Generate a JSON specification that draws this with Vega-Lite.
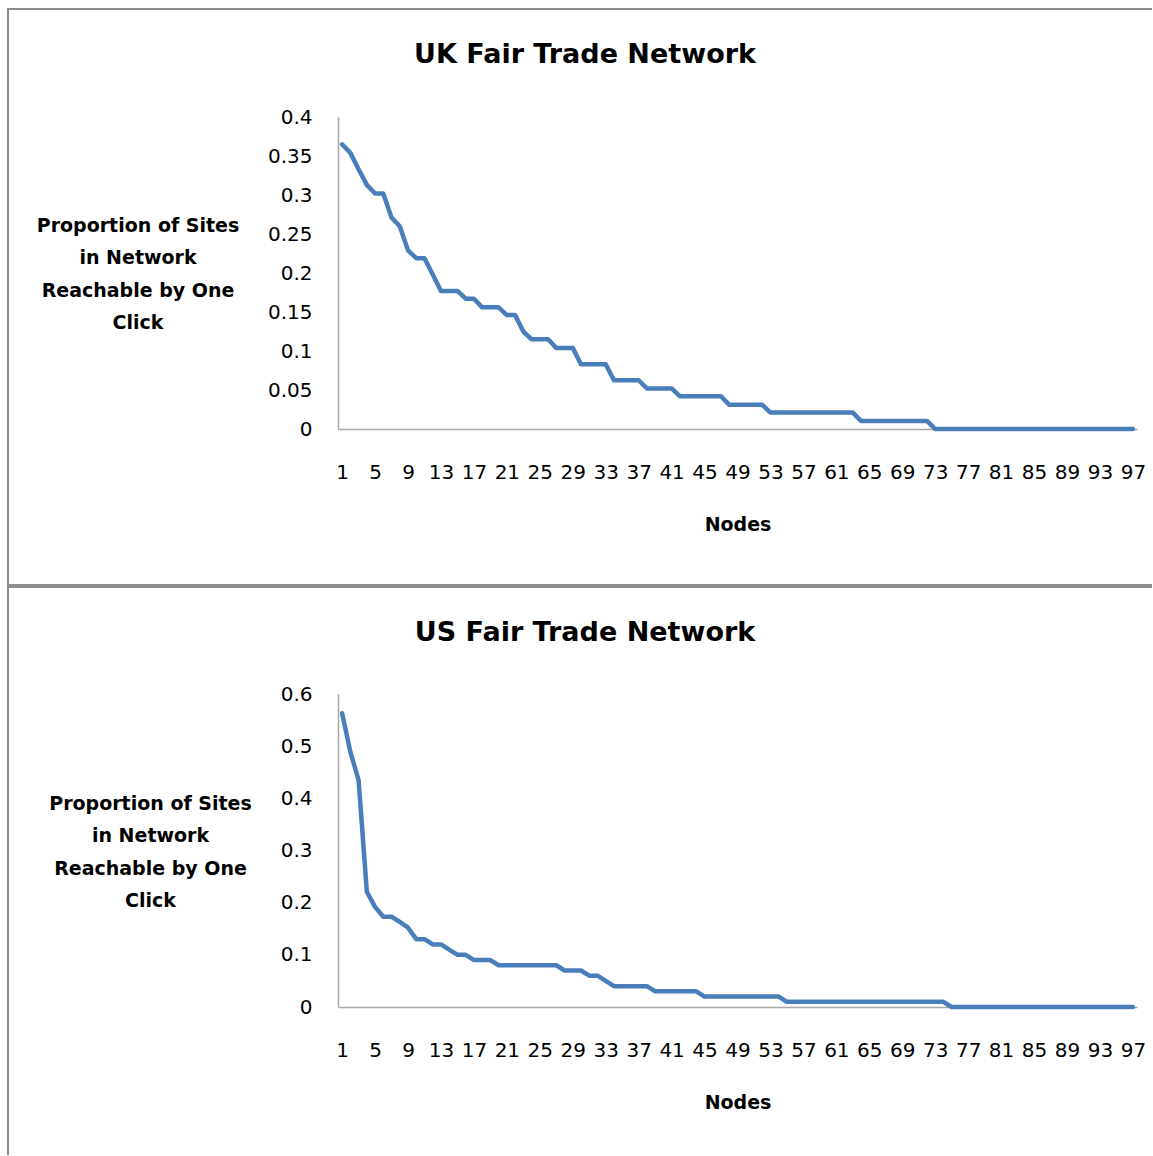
{
  "$schema": "https://vega.github.io/schema/vega-lite/v6.json",
  "padding": {"left": 7, "top": 8, "right": 0, "bottom": 0},
  "background": "white",
  "spacing": 0,
  "config": {
    "font": "DejaVu Sans",
    "view": {"stroke": null},
    "axis": {
      "domainColor": "#A6A6A6",
      "domainWidth": 1.5,
      "ticks": false,
      "tickSize": 0,
      "grid": false,
      "labelFont": "DejaVu Sans",
      "labelFontSize": 20,
      "labelColor": "#000000",
      "labelOverlap": false,
      "labelFlush": false,
      "titleFont": "DejaVu Sans",
      "titleFontSize": 19,
      "titleFontWeight": "bold",
      "titleColor": "#000000"
    }
  },
  "datasets": {
    "uk": [
      {"node": 1, "p": 0.365}, {"node": 2, "p": 0.354}, {"node": 3, "p": 0.333}, {"node": 4, "p": 0.313},
      {"node": 5, "p": 0.302}, {"node": 6, "p": 0.302}, {"node": 7, "p": 0.271}, {"node": 8, "p": 0.26},
      {"node": 9, "p": 0.229}, {"node": 10, "p": 0.219}, {"node": 11, "p": 0.219}, {"node": 12, "p": 0.198},
      {"node": 13, "p": 0.177}, {"node": 14, "p": 0.177}, {"node": 15, "p": 0.177}, {"node": 16, "p": 0.167},
      {"node": 17, "p": 0.167}, {"node": 18, "p": 0.156}, {"node": 19, "p": 0.156}, {"node": 20, "p": 0.156},
      {"node": 21, "p": 0.146}, {"node": 22, "p": 0.146}, {"node": 23, "p": 0.125}, {"node": 24, "p": 0.115},
      {"node": 25, "p": 0.115}, {"node": 26, "p": 0.115}, {"node": 27, "p": 0.104}, {"node": 28, "p": 0.104},
      {"node": 29, "p": 0.104}, {"node": 30, "p": 0.083}, {"node": 31, "p": 0.083}, {"node": 32, "p": 0.083},
      {"node": 33, "p": 0.083}, {"node": 34, "p": 0.0625}, {"node": 35, "p": 0.0625}, {"node": 36, "p": 0.0625},
      {"node": 37, "p": 0.0625}, {"node": 38, "p": 0.052}, {"node": 39, "p": 0.052}, {"node": 40, "p": 0.052},
      {"node": 41, "p": 0.052}, {"node": 42, "p": 0.042}, {"node": 43, "p": 0.042}, {"node": 44, "p": 0.042},
      {"node": 45, "p": 0.042}, {"node": 46, "p": 0.042}, {"node": 47, "p": 0.042}, {"node": 48, "p": 0.031},
      {"node": 49, "p": 0.031}, {"node": 50, "p": 0.031}, {"node": 51, "p": 0.031}, {"node": 52, "p": 0.031},
      {"node": 53, "p": 0.021}, {"node": 54, "p": 0.021}, {"node": 55, "p": 0.021}, {"node": 56, "p": 0.021},
      {"node": 57, "p": 0.021}, {"node": 58, "p": 0.021}, {"node": 59, "p": 0.021}, {"node": 60, "p": 0.021},
      {"node": 61, "p": 0.021}, {"node": 62, "p": 0.021}, {"node": 63, "p": 0.021}, {"node": 64, "p": 0.0104},
      {"node": 65, "p": 0.0104}, {"node": 66, "p": 0.0104}, {"node": 67, "p": 0.0104}, {"node": 68, "p": 0.0104},
      {"node": 69, "p": 0.0104}, {"node": 70, "p": 0.0104}, {"node": 71, "p": 0.0104}, {"node": 72, "p": 0.0104},
      {"node": 73, "p": 0}, {"node": 74, "p": 0}, {"node": 75, "p": 0}, {"node": 76, "p": 0},
      {"node": 77, "p": 0}, {"node": 78, "p": 0}, {"node": 79, "p": 0}, {"node": 80, "p": 0},
      {"node": 81, "p": 0}, {"node": 82, "p": 0}, {"node": 83, "p": 0}, {"node": 84, "p": 0},
      {"node": 85, "p": 0}, {"node": 86, "p": 0}, {"node": 87, "p": 0}, {"node": 88, "p": 0},
      {"node": 89, "p": 0}, {"node": 90, "p": 0}, {"node": 91, "p": 0}, {"node": 92, "p": 0},
      {"node": 93, "p": 0}, {"node": 94, "p": 0}, {"node": 95, "p": 0}, {"node": 96, "p": 0},
      {"node": 97, "p": 0}
    ],
    "us": [
      {"node": 1, "p": 0.563}, {"node": 2, "p": 0.489}, {"node": 3, "p": 0.435}, {"node": 4, "p": 0.221},
      {"node": 5, "p": 0.192}, {"node": 6, "p": 0.173}, {"node": 7, "p": 0.173}, {"node": 8, "p": 0.163},
      {"node": 9, "p": 0.152}, {"node": 10, "p": 0.13}, {"node": 11, "p": 0.13}, {"node": 12, "p": 0.12},
      {"node": 13, "p": 0.12}, {"node": 14, "p": 0.11}, {"node": 15, "p": 0.1}, {"node": 16, "p": 0.1},
      {"node": 17, "p": 0.09}, {"node": 18, "p": 0.09}, {"node": 19, "p": 0.09}, {"node": 20, "p": 0.08},
      {"node": 21, "p": 0.08}, {"node": 22, "p": 0.08}, {"node": 23, "p": 0.08}, {"node": 24, "p": 0.08},
      {"node": 25, "p": 0.08}, {"node": 26, "p": 0.08}, {"node": 27, "p": 0.08}, {"node": 28, "p": 0.07},
      {"node": 29, "p": 0.07}, {"node": 30, "p": 0.07}, {"node": 31, "p": 0.06}, {"node": 32, "p": 0.06},
      {"node": 33, "p": 0.05}, {"node": 34, "p": 0.04}, {"node": 35, "p": 0.04}, {"node": 36, "p": 0.04},
      {"node": 37, "p": 0.04}, {"node": 38, "p": 0.04}, {"node": 39, "p": 0.03}, {"node": 40, "p": 0.03},
      {"node": 41, "p": 0.03}, {"node": 42, "p": 0.03}, {"node": 43, "p": 0.03}, {"node": 44, "p": 0.03},
      {"node": 45, "p": 0.02}, {"node": 46, "p": 0.02}, {"node": 47, "p": 0.02}, {"node": 48, "p": 0.02},
      {"node": 49, "p": 0.02}, {"node": 50, "p": 0.02}, {"node": 51, "p": 0.02}, {"node": 52, "p": 0.02},
      {"node": 53, "p": 0.02}, {"node": 54, "p": 0.02}, {"node": 55, "p": 0.01}, {"node": 56, "p": 0.01},
      {"node": 57, "p": 0.01}, {"node": 58, "p": 0.01}, {"node": 59, "p": 0.01}, {"node": 60, "p": 0.01},
      {"node": 61, "p": 0.01}, {"node": 62, "p": 0.01}, {"node": 63, "p": 0.01}, {"node": 64, "p": 0.01},
      {"node": 65, "p": 0.01}, {"node": 66, "p": 0.01}, {"node": 67, "p": 0.01}, {"node": 68, "p": 0.01},
      {"node": 69, "p": 0.01}, {"node": 70, "p": 0.01}, {"node": 71, "p": 0.01}, {"node": 72, "p": 0.01},
      {"node": 73, "p": 0.01}, {"node": 74, "p": 0.01}, {"node": 75, "p": 0}, {"node": 76, "p": 0},
      {"node": 77, "p": 0}, {"node": 78, "p": 0}, {"node": 79, "p": 0}, {"node": 80, "p": 0},
      {"node": 81, "p": 0}, {"node": 82, "p": 0}, {"node": 83, "p": 0}, {"node": 84, "p": 0},
      {"node": 85, "p": 0}, {"node": 86, "p": 0}, {"node": 87, "p": 0}, {"node": 88, "p": 0},
      {"node": 89, "p": 0}, {"node": 90, "p": 0}, {"node": 91, "p": 0}, {"node": 92, "p": 0},
      {"node": 93, "p": 0}, {"node": 94, "p": 0}, {"node": 95, "p": 0}, {"node": 96, "p": 0},
      {"node": 97, "p": 0}
    ]
  },
  "vconcat": [
    {
      "width": 1144,
      "height": 576,
      "view": {"stroke": "#8C8C8C", "strokeWidth": 2, "strokeDash": [1144, 576, 1720]},
      "title": {"text": "UK Fair Trade Network", "font": "DejaVu Sans", "fontSize": 27, "fontWeight": "bold", "color": "#000000", "anchor": "middle", "offset": -81, "baseline": "alphabetic", "dx": 5},
      "data": {"name": "uk"},
      "mark": {"type": "line", "color": "#4A7EBB", "strokeWidth": 4.5, "strokeCap": "round", "strokeJoin": "round"},
      "encoding": {
        "x": {
          "field": "node", "type": "quantitative",
          "scale": {"domain": [0.5, 97.5], "range": [330, 1129], "nice": false, "zero": false},
          "axis": {
            "values": [1, 5, 9, 13, 17, 21, 25, 29, 33, 37, 41, 45, 49, 53, 57, 61, 65, 69, 73, 77, 81, 85, 89, 93, 97],
            "offset": -156, "labelPadding": 33,
            "title": "Nodes", "titleY": 101, "titleBaseline": "alphabetic"
          }
        },
        "y": {
          "field": "p", "type": "quantitative",
          "scale": {"domain": [0, 0.4], "range": [420, 108], "nice": false},
          "axis": {
            "values": [0, 0.05, 0.1, 0.15, 0.2, 0.25, 0.3, 0.35, 0.4],
            "format": "~g", "offset": -330, "labelPadding": 26,
            "title": ["Proportion of Sites", "in Network", "Reachable by One", "Click"],
            "titleAngle": 0, "titleX": -200.5, "titleY": 216, "titleAlign": "center", "titleBaseline": "middle", "titleLineHeight": 32.5
          }
        }
      }
    },
    {
      "width": 1144,
      "height": 568,
      "view": {"stroke": "#8C8C8C", "strokeWidth": 2, "strokeDash": [1144, 1712, 568]},
      "title": {"text": "US Fair Trade Network", "font": "DejaVu Sans", "fontSize": 27, "fontWeight": "bold", "color": "#000000", "anchor": "middle", "offset": -81, "baseline": "alphabetic", "dx": 5},
      "data": {"name": "us"},
      "mark": {"type": "line", "color": "#4A7EBB", "strokeWidth": 4.5, "strokeCap": "round", "strokeJoin": "round"},
      "encoding": {
        "x": {
          "field": "node", "type": "quantitative",
          "scale": {"domain": [0.5, 97.5], "range": [330, 1129], "nice": false, "zero": false},
          "axis": {
            "values": [1, 5, 9, 13, 17, 21, 25, 29, 33, 37, 41, 45, 49, 53, 57, 61, 65, 69, 73, 77, 81, 85, 89, 93, 97],
            "offset": -148, "labelPadding": 33,
            "title": "Nodes", "titleY": 101, "titleBaseline": "alphabetic"
          }
        },
        "y": {
          "field": "p", "type": "quantitative",
          "scale": {"domain": [0, 0.6], "range": [420, 107], "nice": false},
          "axis": {
            "values": [0, 0.1, 0.2, 0.3, 0.4, 0.5, 0.6],
            "format": "~g", "offset": -330, "labelPadding": 26,
            "title": ["Proportion of Sites", "in Network", "Reachable by One", "Click"],
            "titleAngle": 0, "titleX": -188, "titleY": 216, "titleAlign": "center", "titleBaseline": "middle", "titleLineHeight": 32.5
          }
        }
      }
    }
  ]
}
